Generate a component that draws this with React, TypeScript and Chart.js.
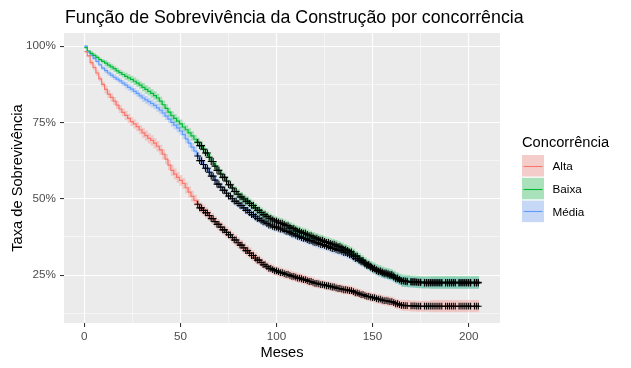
import { useEffect, useRef } from "react";
import { Chart, registerables } from "chart.js";
Chart.register(...registerables);

// Time grid (months)
const times = [0, 1.5, 3, 4.5, 6, 7.5, 9, 10.5, 12, 13.5, 15, 16.5, 18, 19.5, 21, 22.5, 24, 25.5, 27, 28.5,
  30, 31.5, 33, 34.5, 36, 37.5, 39, 40.5, 42, 43.5, 45, 46.5, 48, 49.5, 51, 52.5, 54, 55.5, 57, 58.5,
  60, 61.5, 63, 64.5, 66, 67.5, 69, 70.5, 72, 73.5, 75, 76.5, 78, 79.5, 81, 82.5, 84, 85.5, 87, 88.5,
  90, 91.5, 93, 94.5, 96, 97.5, 99, 100.5, 102, 103.5, 105, 106.5, 108, 109.5, 111, 112.5, 114, 115.5, 117, 118.5,
  120, 121.5, 123, 124.5, 126, 127.5, 129, 130.5, 132, 133.5, 135, 136.5, 138, 139.5, 141, 142.5, 144, 145.5, 147, 148.5,
  150, 151.5, 153, 154.5, 156, 157.5, 159, 160.5, 162, 163.5, 165, 166.5, 168, 169.5, 171, 172.5, 174, 175.5, 177, 178.5,
  180, 181.5, 183, 184.5, 186, 187.5, 189, 190.5, 192, 193.5, 195, 196.5, 198, 199.5, 201, 202.5, 204, 205.5];

// Survival (%)
const altaSurv = [98.2, 96.8, 94.6, 93.0, 91.2, 89.3, 87.5, 85.8, 84.3, 83.2, 82.0, 80.7, 79.4, 78.3, 77.3, 76.3, 75.3, 74.5, 73.6, 72.6,
  71.6, 70.7, 69.8, 69.1, 68.2, 67.2, 66.0, 64.6, 63.0, 61.0, 59.3, 58.1, 57.0, 56.0, 55.0, 53.6, 52.2, 50.8, 49.5, 48.2,
  47.0, 46.2, 45.4, 44.5, 43.5, 42.5, 41.6, 40.7, 39.8, 39.0, 38.2, 37.3, 36.5, 35.6, 34.8, 33.9, 33.0, 32.2, 31.4, 30.6,
  29.9, 29.1, 28.4, 27.8, 27.2, 26.8, 26.4, 26.1, 25.8, 25.5, 25.2, 24.9, 24.6, 24.3, 24.0, 23.8, 23.5, 23.2, 22.9, 22.6,
  22.3, 22.1, 21.9, 21.7, 21.5, 21.3, 21.1, 20.8, 20.6, 20.4, 20.2, 20.1, 19.9, 19.6, 19.2, 18.9, 18.6, 18.3, 18.0, 17.8,
  17.6, 17.3, 17.1, 16.8, 16.6, 16.5, 16.3, 16.0, 15.6, 15.3, 15.1, 15.0, 15.0, 14.9, 14.9, 14.8, 14.8, 14.8, 14.8, 14.8,
  14.8, 14.8, 14.8, 14.8, 14.8, 14.8, 14.8, 14.8, 14.8, 14.8, 14.8, 14.8, 14.8, 14.8, 14.8, 14.8, 14.8, 14.8];
const baixaSurv = [99.5, 98.4, 97.6, 97.0, 96.3, 95.6, 95.0, 94.4, 93.8, 93.2, 92.6, 91.9, 91.3, 90.7, 90.1, 89.6, 89.1, 88.5, 87.9, 87.2,
  86.5, 85.8, 85.2, 84.5, 83.8, 83.0, 82.0, 80.8, 79.6, 78.4, 77.2, 76.3, 75.4, 74.5, 73.5, 72.6, 71.6, 70.6, 69.5, 68.5,
  67.4, 66.2, 65.0, 63.6, 62.2, 60.7, 59.3, 58.1, 57.0, 55.8, 54.6, 53.5, 52.4, 51.5, 50.6, 49.9, 49.2, 48.5, 47.8, 47.0,
  46.2, 45.5, 44.8, 44.2, 43.6, 43.1, 42.7, 42.3, 42.0, 41.6, 41.2, 40.7, 40.3, 39.8, 39.4, 39.0, 38.7, 38.3, 37.9, 37.5,
  37.1, 36.7, 36.4, 36.0, 35.7, 35.4, 35.1, 34.8, 34.4, 34.0, 33.5, 33.1, 32.6, 31.9, 31.2, 30.5, 29.8, 29.1, 28.5, 27.9,
  27.3, 26.8, 26.4, 26.0, 25.7, 25.5, 25.2, 24.7, 24.1, 23.6, 23.2, 23.1, 23.0, 22.9, 22.9, 22.8, 22.7, 22.6, 22.6, 22.6,
  22.6, 22.6, 22.6, 22.6, 22.6, 22.6, 22.6, 22.6, 22.6, 22.6, 22.6, 22.6, 22.6, 22.6, 22.6, 22.6, 22.6, 22.6];
const mediaSurv = [100, 98.0, 97.0, 96.0, 95.0, 93.9, 92.8, 92.0, 91.2, 90.5, 89.8, 89.2, 88.6, 87.9, 87.2, 86.5, 85.9, 85.2, 84.5, 83.7,
  83.0, 82.4, 81.8, 81.2, 80.6, 79.8, 79.0, 78.1, 77.1, 76.1, 75.0, 74.1, 73.2, 72.2, 71.0, 69.6, 68.2, 66.9, 65.6, 64.0,
  62.5, 61.2, 60.0, 58.7, 57.4, 56.1, 54.8, 53.8, 52.8, 51.8, 50.9, 50.0, 49.2, 48.5, 47.8, 47.0, 46.2, 45.5, 44.8, 44.1,
  43.5, 42.9, 42.4, 41.9, 41.4, 41.0, 40.7, 40.4, 40.1, 39.7, 39.3, 38.9, 38.5, 38.1, 37.7, 37.3, 37.0, 36.6, 36.3, 35.9,
  35.6, 35.3, 35.0, 34.7, 34.4, 34.0, 33.7, 33.4, 33.1, 32.8, 32.4, 32.0, 31.6, 31.0, 30.4, 29.8, 29.3, 28.7, 28.1, 27.5,
  27.0, 26.5, 26.1, 25.7, 25.4, 25.1, 24.8, 24.3, 23.8, 23.4, 23.0, 22.9, 22.8, 22.7, 22.6, 22.6, 22.5, 22.5, 22.4, 22.4,
  22.4, 22.4, 22.4, 22.4, 22.4, 22.4, 22.4, 22.4, 22.4, 22.4, 22.4, 22.4, 22.4, 22.4, 22.4, 22.4, 22.4, 22.4];

// Confidence band half-widths (%), read piecewise from these times on
const ciTimes = [0, 3, 10, 20, 30, 45, 60, 90, 120, 150, 165, 180];
const altaCI = [0.3, 0.9, 1.3, 1.5, 1.7, 1.8, 1.8, 1.6, 1.5, 1.6, 1.8, 2.0];
const baixaCI = [0.3, 0.7, 1.0, 1.2, 1.4, 1.5, 1.6, 1.6, 1.7, 1.8, 2.0, 2.1];
const mediaCI = [0.3, 0.6, 0.9, 1.1, 1.3, 1.4, 1.5, 1.5, 1.6, 1.7, 1.8, 1.9];

// Censoring times (months)
const censorTimes = [59, 60, 61, 62, 63, 64, 65, 66, 67, 68, 69, 70, 71, 72, 73, 74, 75, 76, 77, 78, 79, 80,
  81, 82, 83, 84, 85, 86, 87, 88, 89, 90, 91, 92, 93, 94, 95, 96, 97, 98, 99, 100,
  101, 102, 103, 104, 105, 106, 107, 108, 109, 110, 111, 112, 113, 114, 115, 116, 117, 118, 119, 120,
  121, 122, 123, 124, 125, 126, 127, 128, 129, 130, 131, 132, 133, 134, 135, 136, 137, 138, 139, 140,
  141, 142, 143, 144, 145, 146, 147, 148, 149, 150, 151, 152, 153, 154, 155, 156, 157, 158, 159, 160,
  161, 162, 163, 164, 165, 166, 167, 168, 170, 171, 172, 173, 174, 175, 177, 178, 179, 180,
  181, 182, 183, 184, 185, 186, 188, 189, 190, 191, 192, 193, 195, 196, 197, 198, 199, 200, 201, 203, 204, 205];

const groups = ["Alta", "Baixa", "Média"];
const survs = [altaSurv, baixaSurv, mediaSurv];
const cis = [altaCI, baixaCI, mediaCI];
const lineColors = ["#F8766D", "#00BA38", "#619CFF"];
const bandColors = ["rgba(248,118,109,0.3)", "rgba(0,186,56,0.3)", "rgba(97,156,255,0.3)"];

const xTicks = [0, 25, 50, 75, 100, 125, 150, 175, 200];
const xMajor = [0, 50, 100, 150, 200];
const yTicks = [12.5, 25, 37.5, 50, 62.5, 75, 87.5, 100];
const yMajor = [25, 50, 75, 100];

const FONT = "'Liberation Sans', Arial, sans-serif";

function stepLookup(t: number, ts: number[], vals: number[]): number {
  let v = vals[0];
  for (let i = 0; i < ts.length; i++) {
    if (ts[i] <= t) v = vals[i];
    else break;
  }
  return v;
}

const decorPlugin = {
  id: "decor",
  beforeDraw(chart: any) {
    const { ctx, chartArea } = chart;
    ctx.save();
    ctx.fillStyle = "#EBEBEB";
    ctx.fillRect(chartArea.left, chartArea.top, chartArea.right - chartArea.left, chartArea.bottom - chartArea.top);
    ctx.restore();
  },
  afterDraw(chart: any) {
    const { ctx } = chart;
    ctx.save();
    ctx.fillStyle = "#000000";
    ctx.textBaseline = "alphabetic";
    ctx.textAlign = "left";
    ctx.font = `17.8px ${FONT}`;
    ctx.fillText("Função de Sobrevivência da Construção por concorrência", 65, 23);
    ctx.font = `14.67px ${FONT}`;
    ctx.fillText("Concorrência", 522, 147);
    const keyX = 522, keyW = 22, keyH = 21.5, step = 22.8, top0 = 155;
    groups.forEach((g, i) => {
      const ky = top0 + i * step;
      ctx.fillStyle = "#F2F2F2";
      ctx.fillRect(keyX, ky, keyW, keyH);
      ctx.fillStyle = bandColors[i];
      ctx.fillRect(keyX, ky, keyW, keyH);
      ctx.strokeStyle = lineColors[i];
      ctx.lineWidth = 1.1;
      ctx.beginPath();
      ctx.moveTo(keyX + 1.5, Math.round(ky + keyH / 2) + 0.5);
      ctx.lineTo(keyX + keyW - 1.5, Math.round(ky + keyH / 2) + 0.5);
      ctx.stroke();
      ctx.fillStyle = "#000000";
      ctx.font = `11.7px ${FONT}`;
      ctx.fillText(g, 552.5, ky + keyH / 2 + 4.3);
    });
    ctx.restore();
  },
};

export default function App() {
  const ref = useRef<HTMLCanvasElement | null>(null);
  useEffect(() => {
    if (!ref.current) return;
    const datasets: any[] = [];
    groups.forEach((g, i) => {
      const s = survs[i];
      const c = cis[i];
      datasets.push({
        label: g + " sup",
        data: times.map((t, k) => ({ x: t, y: s[k] + stepLookup(t, ciTimes, c) })),
        stepped: true,
        borderWidth: 0,
        borderColor: "rgba(0,0,0,0)",
        backgroundColor: bandColors[i],
        fill: "+1",
        pointRadius: 0,
        order: 3,
      });
      datasets.push({
        label: g + " inf",
        data: times.map((t, k) => ({ x: t, y: s[k] - stepLookup(t, ciTimes, c) })),
        stepped: true,
        borderWidth: 0,
        borderColor: "rgba(0,0,0,0)",
        fill: false,
        pointRadius: 0,
        order: 3,
      });
    });
    groups.forEach((g, i) => {
      datasets.push({
        label: g,
        data: times.map((t, k) => ({ x: t, y: survs[i][k] })),
        stepped: true,
        borderWidth: 1.2,
        borderColor: lineColors[i],
        fill: false,
        pointRadius: 0,
        order: 2,
      });
    });
    groups.forEach((g, i) => {
      datasets.push({
        label: g + " censura",
        data: censorTimes.map((t) => ({ x: t, y: stepLookup(t, times, survs[i]) })),
        showLine: false,
        pointStyle: "cross",
        pointRadius: 3.4,
        pointBorderColor: "#000000",
        pointBorderWidth: 1.1,
        pointBackgroundColor: "#000000",
        fill: false,
        order: 1,
      });
    });

    const chart = new Chart(ref.current, {
      type: "line",
      data: { datasets },
      options: {
        animation: false,
        responsive: true,
        maintainAspectRatio: false,
        layout: { padding: { top: 33, right: 131, left: 0, bottom: 0 } },
        plugins: { legend: { display: false }, tooltip: { enabled: false }, title: { display: false } },
        scales: {
          x: {
            type: "linear",
            min: -10.6,
            max: 216.3,
            afterBuildTicks: (s: any) => {
              s.ticks = xTicks.map((v) => ({ value: v }));
            },
            afterFit: (s: any) => {
              s.height = 45;
            },
            border: { display: false },
            grid: {
              color: "#FFFFFF",
              lineWidth: (c: any) => (xMajor.includes(c.tick?.value) ? 1.07 : 0.53),
              tickColor: (c: any) => (xMajor.includes(c.tick?.value) ? "#333333" : "rgba(0,0,0,0)"),
              tickLength: 4,
              tickWidth: 1.07,
              drawTicks: true,
            },
            ticks: {
              autoSkip: false,
              maxRotation: 0,
              padding: 3,
              color: "#4D4D4D",
              font: { family: FONT, size: 11.7 },
              callback: (v: any) => (xMajor.includes(Number(v)) ? String(v) : ""),
            },
            title: {
              display: true,
              text: "Meses",
              color: "#000000",
              font: { family: FONT, size: 14.67 },
              padding: { top: 0, bottom: 6 },
            },
          },
          y: {
            type: "linear",
            min: 9.3,
            max: 104.3,
            afterBuildTicks: (s: any) => {
              s.ticks = yTicks.map((v) => ({ value: v }));
            },
            afterFit: (s: any) => {
              s.width = 64;
            },
            border: { display: false },
            grid: {
              color: "#FFFFFF",
              lineWidth: (c: any) => (yMajor.includes(c.tick?.value) ? 1.07 : 0.53),
              tickColor: (c: any) => (yMajor.includes(c.tick?.value) ? "#333333" : "rgba(0,0,0,0)"),
              tickLength: 4,
              tickWidth: 1.07,
              drawTicks: true,
            },
            ticks: {
              autoSkip: false,
              padding: 4,
              color: "#4D4D4D",
              font: { family: FONT, size: 11.7 },
              callback: (v: any) => (yMajor.includes(Number(v)) ? `${v}%` : ""),
            },
            title: {
              display: true,
              text: "Taxa de Sobrevivência",
              color: "#000000",
              font: { family: FONT, size: 14.67 },
              padding: { top: 9, bottom: 0 },
            },
          },
        },
      },
      plugins: [decorPlugin],
    });
    return () => chart.destroy();
  }, []);

  return (
    <div style={{ position: "absolute", left: 0, top: 0, width: 631, height: 368 }}>
      <canvas ref={ref} />
    </div>
  );
}
